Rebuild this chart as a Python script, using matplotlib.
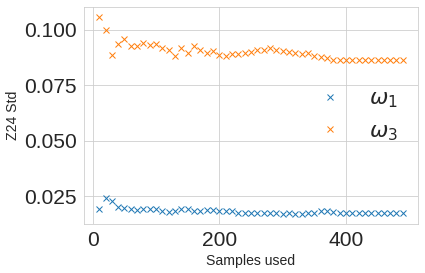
import numpy as np
import matplotlib
matplotlib.use("Agg")
import matplotlib.pyplot as plt
import seaborn as sns

sns.set_style("whitegrid")
plt.rcParams['font.family'] = ['Liberation Sans', 'DejaVu Sans']

samples = list(range(10, 500, 10))

omega1 = [0.0193, 0.0242, 0.0227, 0.0203, 0.0197, 0.0193, 0.0188, 0.0191, 0.0193, 0.0191,
          0.0185, 0.0179, 0.0182, 0.0194, 0.0191, 0.0182, 0.0182, 0.0188, 0.0188, 0.0185,
          0.0185, 0.0182, 0.0173, 0.0173, 0.0176, 0.0173, 0.0173, 0.0176, 0.0173, 0.0170,
          0.0175, 0.0172, 0.0170, 0.0173, 0.0176, 0.0182, 0.0185, 0.0179, 0.0176, 0.0176,
          0.0176, 0.0176, 0.0176, 0.0176, 0.0176, 0.0176, 0.0176, 0.0176, 0.0176]

omega3 = [0.1057, 0.0997, 0.0885, 0.0934, 0.0958, 0.0925, 0.0925, 0.0940, 0.0931, 0.0937,
          0.0915, 0.0910, 0.0883, 0.0915, 0.0895, 0.0928, 0.0907, 0.0895, 0.0904, 0.0885,
          0.0882, 0.0888, 0.0892, 0.0895, 0.0901, 0.0910, 0.0910, 0.0917, 0.0910, 0.0904,
          0.0897, 0.0895, 0.0892, 0.0895, 0.0882, 0.0877, 0.0870, 0.0865, 0.0865, 0.0865,
          0.0865, 0.0865, 0.0865, 0.0864, 0.0864, 0.0864, 0.0864, 0.0864, 0.0864]

fig = plt.figure(figsize=(425 / 72, 273 / 72), dpi=72)
ax = fig.add_axes([84 / 425, 49 / 273, 334 / 425, 217 / 273])

ax.plot(samples, omega1, 'x', label=r'$\omega_1$')
ax.plot(samples, omega3, 'x', label=r'$\omega_3$')

ax.set_xlabel('Samples used', fontsize=14)
ax.set_ylabel('Z24 Std', fontsize=14)
ax.tick_params(labelsize=21)
ax.set_yticks([0.025, 0.050, 0.075, 0.100])
ax.legend(loc='center right', fontsize=22, frameon=False)

fig.savefig('out.png', dpi=72)
